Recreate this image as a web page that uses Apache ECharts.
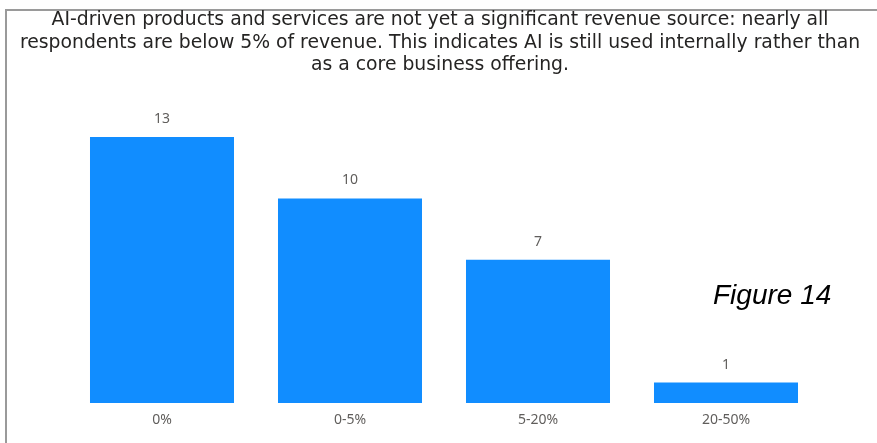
<!DOCTYPE html>
<html>
<head>
<meta charset="utf-8">
<script src="https://cdn.jsdelivr.net/npm/echarts@6/dist/echarts.min.js"></script>
<style>
  html, body { margin: 0; padding: 0; background: #fff; }
  #chart { width: 877px; height: 443px; }
</style>
</head>
<body>
<div id="chart"></div>
<script>
// Share of revenue from AI-driven products and services
const categories = ['0%', '0-5%', '5-20%', '20-50%'];
const respondents = [13, 10, 7, 1];
const titleLines = [
  'AI-driven products and services are not yet a significant revenue source: nearly all',
  'respondents are below 5% of revenue. This indicates AI is still used internally rather than',
  'as a core business offering.'
];
const figureLabel = 'Figure 14';

const chart = echarts.init(document.getElementById('chart'), null, { renderer: 'canvas' });

chart.setOption({
  backgroundColor: '#ffffff',
  animation: false,
  graphic: [
    {
      type: 'rect',
      shape: { x: 6, y: 10, width: 900, height: 500 },
      style: { fill: 'none', stroke: '#9a9a9a', lineWidth: 2 },
      silent: true
    },
    {
      type: 'text',
      x: 440,
      y: 9,
      style: {
        text: titleLines.join('\n'),
        align: 'center',
        verticalAlign: 'top',
        font: '18.8px "DejaVu Sans"',
        lineHeight: 22.5,
        fill: '#252423'
      }
    },
    {
      type: 'text',
      x: 713,
      y: 282,
      style: {
        text: figureLabel,
        font: 'italic 28px "Liberation Sans"',
        fill: '#000000'
      }
    }
  ],
  grid: { left: 68, right: 57, top: 137, bottom: 40 },
  xAxis: {
    type: 'category',
    data: categories,
    axisLine: { show: false },
    axisTick: { show: false },
    axisLabel: {
      margin: 10,
      fontFamily: 'Noto Sans',
      fontSize: 14,
      color: '#605E5C'
    }
  },
  yAxis: {
    type: 'value',
    min: 0,
    max: 13,
    show: false,
    splitLine: { show: false }
  },
  series: [{
    type: 'bar',
    data: respondents,
    barCategoryGap: '23.4%',
    itemStyle: { color: '#118DFF' },
    label: {
      show: true,
      position: 'top',
      distance: 11,
      fontFamily: 'Noto Sans',
      fontSize: 14,
      color: '#605E5C'
    }
  }]
});
</script>
</body>
</html>
